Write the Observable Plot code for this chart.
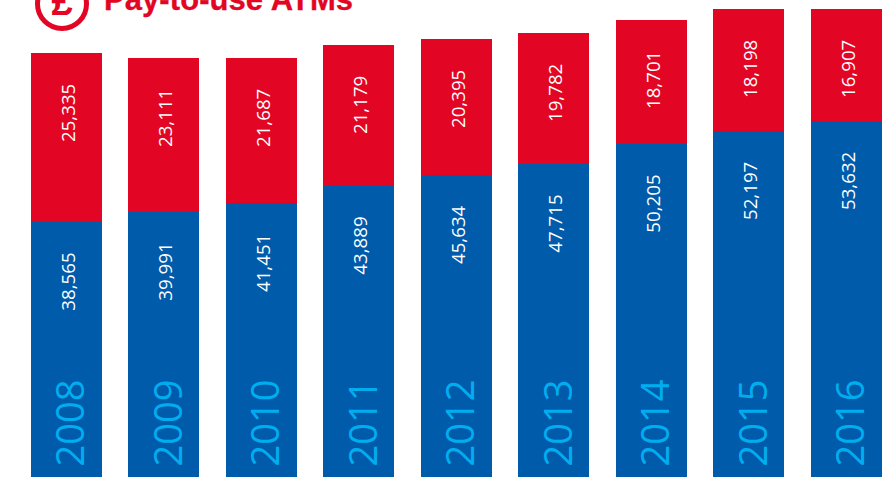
<!DOCTYPE html>
<html><head><meta charset="utf-8">
<script src="https://cdn.jsdelivr.net/npm/d3@7"></script>
<script src="https://cdn.jsdelivr.net/npm/@observablehq/plot@0.6"></script>
<style>
html,body{margin:0;padding:0;background:#fff;overflow:hidden}
#wrap{position:relative;width:893px;height:477px;overflow:hidden}
#title{position:absolute;left:104px;top:-17px;font:bold 31px "Liberation Sans",sans-serif;color:#E30524;white-space:nowrap;line-height:34px;-webkit-text-stroke:0.3px #E30524;letter-spacing:0.07px}
#icon{position:absolute;left:35px;top:-23px;width:44px;height:44px;border:5px solid #E30524;border-radius:50%;color:#E30524;font:bold 38px "Liberation Sans",sans-serif;text-align:center;line-height:41px}
#plot svg{display:block}
</style></head><body>
<div id="wrap"><div id="plot"></div><div id="icon">£</div><div id="title">Pay-to-use ATMs</div></div>
<script>
const years = ["2008","2009","2010","2011","2012","2013","2014","2015","2016"];
// Printed labels
const freeLabels = [38565,39991,41451,43889,45634,47715,50205,52197,53632];
const payLabels = [25335,23111,21687,21179,20395,19782,18701,18198,16907];
// Bar lengths (they stray slightly from the printed labels, mostly in 2013)
const freeBars = [38511,40020,41327,43941,45551,47260,50276,52187,53695];
const payBars = [25441,23178,21871,21217,20512,19708,18653,18401,16893];
const rows = years.flatMap((year,i)=>[
  {year, kind:"free", value:freeBars[i], label:freeLabels[i], top:freeBars[i]},
  {year, kind:"pay", value:payBars[i], label:payLabels[i], top:freeBars[i]+payBars[i]}
]);
const fmt = d3.format(",");
const plot = Plot.plot({
  width:893, height:477,
  marginTop:0, marginRight:0, marginBottom:0, marginLeft:0,
  x:{type:"band", domain:years, range:[4.48,908.48], padding:0.272, round:false, axis:null},
  y:{domain:[0,71946], range:[477,0], axis:null},
  color:{domain:["free","pay"], range:["#005BAA","#E30524"]},
  style:{fontFamily:"'Open Sans',sans-serif", background:"#fff", overflow:"hidden"},
  marks:[
    Plot.barY(rows,{x:"year", y:"value", fill:"kind", order:["free","pay"], shapeRendering:"crispEdges"}),
    Plot.text(rows,{x:"year", y:"top", text:d=>fmt(d.label), rotate:-90, fill:"#fff", fontSize:18.7, dx:2, dy:88.5, textAnchor:"start"}),
    Plot.text(years,{x:d=>d, y:()=>0, text:d=>d, rotate:-90, fill:"#00AEEF", fontSize:38, dx:5, dy:-11, textAnchor:"start"})
  ]
});
document.getElementById("plot").appendChild(plot);
</script>
</body></html>
